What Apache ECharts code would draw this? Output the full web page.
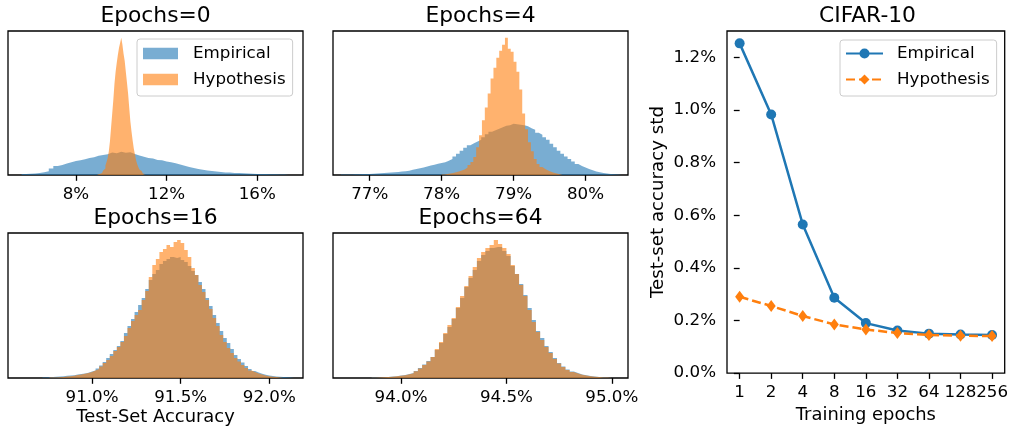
<!DOCTYPE html>
<html><head><meta charset="utf-8">
<script src="https://cdn.jsdelivr.net/npm/echarts@6/dist/echarts.min.js"></script>
<style>html,body{margin:0;padding:0;background:#fff}#c{width:1011px;height:429px}</style>
</head><body><div id="c"></div>
<script>
// ---------- data ----------
const epochLabels = ['1','2','4','8','16','32','64','128','256'];
const stdEmpirical = [1.253,0.983,0.565,0.286,0.190,0.162,0.150,0.147,0.145];
const stdHypothesis = [0.290,0.255,0.217,0.185,0.166,0.152,0.145,0.142,0.141];
const stdTicks = [0,0.2,0.4,0.6,0.8,1.0,1.2];
const epochTickIdx = [0,1,2,3,4,5,6,7,8];
const epochLabelIdxEven = [0,2,4,6,8];
const epochLabelIdxOdd = [1,3,5,7];

// Epochs=0 histogram (test accuracy %, bin start, bin width, heights)
const e0Ticks = [8,12,16];
const e0EmpStart = 5.6, e0EmpWidth = 0.2;
const e0Emp = [1.0,1.2,1.5,2.0,2.8,3.8,6.5,9.0,10.0,11.5,12.8,14.0,14.8,15.8,17.2,17.9,19.4,20.2,21.0,22.6,21.8,23.5,22.4,23.0,21.2,19.6,18.4,17.0,16.5,15.2,14.8,13.6,12.9,11.8,10.6,9.4,8.0,7.1,6.0,5.2,4.6,3.9,3.5,3.0,2.6,2.4,2.1,1.9,1.7,1.5,1.3,1.1,1.0,0.9,0.8,0.7,0.6,0.5,0.4];
const e0HypStart = 8.95, e0HypWidth = 0.05;
const e0Hyp = [0.5,1.0,1.5,2.0,3.0,4.5,6.5,9.5,13,17,24,34,48,62,76,92,104,113,121,128,133,138,131,122,115,104,93,82,68,54,44,35,27,21,15,11,8,5.5,4,2.5,1.5,1.0,0.5];

// Epochs=4
const e4Ticks = [77,78,79,80];
const e4EmpStart = 76.60, e4EmpWidth = 0.05;
const e4Emp = [0.5,0.5,0.6,0.7,0.8,0.9,1.0,1.1,1.3,1.5,1.8,2.0,2.2,2.4,2.7,3.0,3.4,3.8,4.4,5.2,6.0,6.8,7.6,8.5,9.6,10.4,11.2,12.0,12.9,14.3,16.0,18.5,21.5,24.5,27.5,30.0,32.0,33.6,35.5,38.0,41.0,43.5,45.0,46.5,48.0,49.5,50.0,51.5,51.0,50.5,50.0,49.0,47.0,45.5,42.5,40.5,38.0,35.5,31.5,28.0,24.5,21.5,18.5,16.0,13.5,11.0,9.0,7.5,6.0,4.8,3.6,2.8,2.1,1.5,1.1,0.8,0.6,0.4];
const e4HypStart = 78.00, e4HypWidth = 0.04;
const e4Hyp = [0.5,1.0,1.5,2.0,2.8,3.5,4.5,5.5,7.5,10,13,18,28,40,55,68,82,97,108,118,125,131,138,127,124,114,104,86,62,46,33,24,16,11,8,6,4.5,3.2,2.2,1.4,0.8,0.4];

// Epochs=16
const e16Ticks = [91.0,91.5,92.0];
const e16EmpStart = 90.72, e16EmpWidth = 0.02;
const e16Emp = [0.5,0.7,1.0,1.2,1.5,1.8,2.2,2.6,2.8,3.5,4.0,4.5,5.2,6.5,7.5,9.5,12.5,16,20,24,28,32,37,45,52,59,66,73,80,89,98,104,108,114,117,119,121,120,121,118,116,112,107,103,96,89,80,72,63,55,47,40,35,29,23,19,15.5,12,9,7,5.5,4.2,3.3,2.6,2.0,1.6,1.2,0.9,0.7,0.5,0.4];
const e16HypStart = 90.76, e16HypWidth = 0.02;
const e16Hyp = [0.4,0.6,0.8,1.0,1.4,1.8,2.3,3.0,3.6,4.2,5.0,6.0,7.5,9.0,11.5,15,18,22,27,31,36,42,50,57,63,68,78,87,101,113,119,126,129,133,131,136,138,135,128,121,110,103,93,86,78,69,60,52,43,36,30,25,20,16.5,13,10,7.5,6,4.5,3.4,2.5,1.8,1.3,0.9,0.6,0.4];

// Epochs=64
const e64Ticks = [94.0,94.5,95.0];
const e64EmpStart = 93.86, e64EmpWidth = 0.02;
const e64Emp = [0.4,0.6,0.8,1.0,1.4,1.8,2.4,3.0,4.0,5.0,7.0,10,13.5,17,21,28,35,44,51,59,70,80,91,100,108,117,123,127,130,131,131,127,122,112,104,94,83,70,58,47,40,32,26,20,15,11.5,8.5,6.5,5.0,3.6,2.8,2.0,1.4,1.0,0.7,0.5,0.3];
const e64HypStart = 93.86, e64HypWidth = 0.02;
const e64Hyp = [0.3,0.5,0.7,0.9,1.3,1.7,2.2,2.8,3.8,4.8,6.8,9.5,13,16.5,21,29,36,45,53,60,71,82,92,102,111,120,126,130,133,138,134,130,124,113,104,93,82,68,56,46,38,31,25,19,14.5,11,8,6,4.6,3.3,2.5,1.8,1.2,0.9,0.6,0.4,0.2];

// ---------- chart ----------
const FONT = 'DejaVu Sans';
const FS = 16.7;
const FS_NAME = 17.9;
const BLUE = '#1f77b4', ORANGE = '#ff7f0e';

function histData(start, width, vals) {
  const d = vals.map((v, i) => [start + i * width, v]);
  d.push([start + vals.length * width, 0]);
  return d;
}
function histSeries(gi, name, start, width, vals, color) {
  return {
    type: 'line', name: name, xAxisIndex: gi, yAxisIndex: gi,
    data: histData(start, width, vals), step: 'end', symbol: 'none',
    lineStyle: { width: 0, opacity: 0 }, areaStyle: { color: color, opacity: 0.6 },
    itemStyle: { color: color }, silent: true, animation: false
  };
}
const tickStyle = { show: true, length: 5.8, inside: false, lineStyle: { color: '#000', width: 1.3 } };
function labelStyle(extra) {
  return Object.assign({ color: '#000', fontFamily: FONT, fontSize: FS }, extra);
}
function histX(gi, min, max, ticks, dec, name) {
  const ax = {
    type: 'value', gridIndex: gi, min: min, max: max,
    axisLine: { show: false }, splitLine: { show: false },
    axisTick: Object.assign({ customValues: ticks }, tickStyle),
    axisLabel: labelStyle({ customValues: ticks, margin: 11, hideOverlap: false,
      formatter: v => (dec ? v.toFixed(dec) : String(Math.round(v))) + '%' })
  };
  if (name) {
    ax.name = name; ax.nameLocation = 'middle'; ax.nameGap = 30;
    ax.nameTextStyle = labelStyle({ fontSize: FS_NAME });
  }
  return ax;
}
function histY(gi, a, b) {
  return { type: 'value', gridIndex: gi, min: 0, max: Math.max(Math.max(...a), Math.max(...b)) * 1.05, show: false };
}

const gridBase = { show: true, borderColor: '#000', borderWidth: 1.3, backgroundColor: 'transparent', containLabel: false };
const grids = [
  { left: 8, top: 31, width: 295, height: 144 },
  { left: 333, top: 31, width: 295, height: 144 },
  { left: 8, top: 233, width: 295, height: 145 },
  { left: 333, top: 233, width: 295, height: 145 },
  { left: 727, top: 31, width: 281, height: 347 }
].map(g => Object.assign({}, gridBase, g));

function titleText(x, y, t) {
  return { type: 'text', x: x, y: y, silent: true,
    style: { text: t, font: '21.8px "DejaVu Sans"', fill: '#000', align: 'center', verticalAlign: 'middle', textAlign: 'center', textVerticalAlign: 'middle' } };
}

const option = {
  animation: false,
  backgroundColor: '#fff',
  grid: grids,
  xAxis: [
    histX(0, 5.0, 18.02, e0Ticks, 0),
    histX(1, 76.49, 80.59, e4Ticks, 0),
    histX(2, 90.526, 92.19, e16Ticks, 1, 'Test-Set Accuracy'),
    histX(3, 93.677, 95.077, e64Ticks, 1),
    {
      type: 'value', gridIndex: 4, min: -0.4, max: 8.4, position: 'bottom',
      axisLine: { show: false }, splitLine: { show: false },
      axisTick: Object.assign({ customValues: epochTickIdx }, tickStyle),
      axisLabel: labelStyle({ customValues: epochLabelIdxEven, margin: 11, hideOverlap: false,
        showMinLabel: true, showMaxLabel: true, formatter: v => epochLabels[Math.round(v)] }),
      name: 'Training epochs', nameLocation: 'middle', nameGap: 31, nameTextStyle: labelStyle({ fontSize: FS_NAME })
    },
    {
      type: 'value', gridIndex: 4, min: -0.4, max: 8.4, position: 'bottom', offset: 0,
      axisLine: { show: false }, splitLine: { show: false }, axisTick: { show: false },
      axisLabel: labelStyle({ customValues: epochLabelIdxOdd, margin: 11, hideOverlap: false,
        showMinLabel: true, showMaxLabel: true, formatter: v => epochLabels[Math.round(v)] })
    }
  ],
  yAxis: [
    histY(0, e0Emp, e0Hyp),
    histY(1, e4Emp, e4Hyp),
    histY(2, e16Emp, e16Hyp),
    histY(3, e64Emp, e64Hyp),
    {
      type: 'value', gridIndex: 4, min: 0, max: 1.3,
      axisLine: { show: false }, splitLine: { show: false },
      axisTick: Object.assign({ customValues: stdTicks }, tickStyle),
      axisLabel: labelStyle({ customValues: stdTicks, margin: 11, formatter: v => v.toFixed(1) + '%' }),
      name: 'Test-set accuracy std', nameLocation: 'middle', nameGap: 60, nameTextStyle: labelStyle({ fontSize: 18.2 })
    }
  ],
  legend: [
    {
      left: 137, top: 39, orient: 'vertical', selectedMode: false,
      data: [
        { name: 'hist-Empirical', icon: 'rect', itemStyle: { color: '#79add2' } },
        { name: 'hist-Hypothesis', icon: 'rect', itemStyle: { color: '#ffb26e' } }
      ],
      formatter: n => n.replace('hist-', ''),
      itemWidth: 35, itemHeight: 11.7, itemGap: 9,
      textStyle: labelStyle({ padding: [0, 0, 0, 10], lineHeight: 17 }),
      backgroundColor: 'rgba(255,255,255,0.8)', borderColor: '#cccccc', borderWidth: 1, borderRadius: 3,
      padding: [6, 7, 8, 6]
    },
    {
      left: 840, top: 40, orient: 'vertical', selectedMode: false,
      data: ['Empirical', 'Hypothesis'],
      itemWidth: 37, itemHeight: 12.5, itemGap: 9,
      textStyle: labelStyle({ padding: [0, 0, 0, 9], lineHeight: 17 }),
      backgroundColor: 'rgba(255,255,255,0.8)', borderColor: '#cccccc', borderWidth: 1, borderRadius: 3,
      padding: [5, 7, 8, 5]
    }
  ],
  graphic: [
    titleText(155.5, 16, 'Epochs=0'),
    titleText(480.5, 16, 'Epochs=4'),
    titleText(155.5, 218, 'Epochs=16'),
    titleText(480.5, 218, 'Epochs=64'),
    titleText(867.5, 16, 'CIFAR-10')
  ],
  series: [
    histSeries(0, 'hist-Empirical', e0EmpStart, e0EmpWidth, e0Emp, BLUE),
    histSeries(0, 'hist-Hypothesis', e0HypStart, e0HypWidth, e0Hyp, ORANGE),
    histSeries(1, 'hist-Empirical', e4EmpStart, e4EmpWidth, e4Emp, BLUE),
    histSeries(1, 'hist-Hypothesis', e4HypStart, e4HypWidth, e4Hyp, ORANGE),
    histSeries(2, 'hist-Empirical', e16EmpStart, e16EmpWidth, e16Emp, BLUE),
    histSeries(2, 'hist-Hypothesis', e16HypStart, e16HypWidth, e16Hyp, ORANGE),
    histSeries(3, 'hist-Empirical', e64EmpStart, e64EmpWidth, e64Emp, BLUE),
    histSeries(3, 'hist-Hypothesis', e64HypStart, e64HypWidth, e64Hyp, ORANGE),
    {
      type: 'line', name: 'Empirical', xAxisIndex: 4, yAxisIndex: 4,
      data: stdEmpirical.map((v, i) => [i, v]),
      symbol: 'circle', symbolSize: 10,
      lineStyle: { color: BLUE, width: 2.5 }, itemStyle: { color: BLUE }, z: 3
    },
    {
      type: 'line', name: 'Hypothesis', xAxisIndex: 4, yAxisIndex: 4,
      data: stdHypothesis.map((v, i) => [i, v]),
      symbol: 'diamond', symbolSize: [9, 12],
      lineStyle: { color: ORANGE, width: 2.5, type: [9, 4] }, itemStyle: { color: ORANGE }, z: 4
    }
  ]
};

const chart = echarts.init(document.getElementById('c'), null, { renderer: 'canvas' });
chart.setOption(option);
</script>
</body></html>
